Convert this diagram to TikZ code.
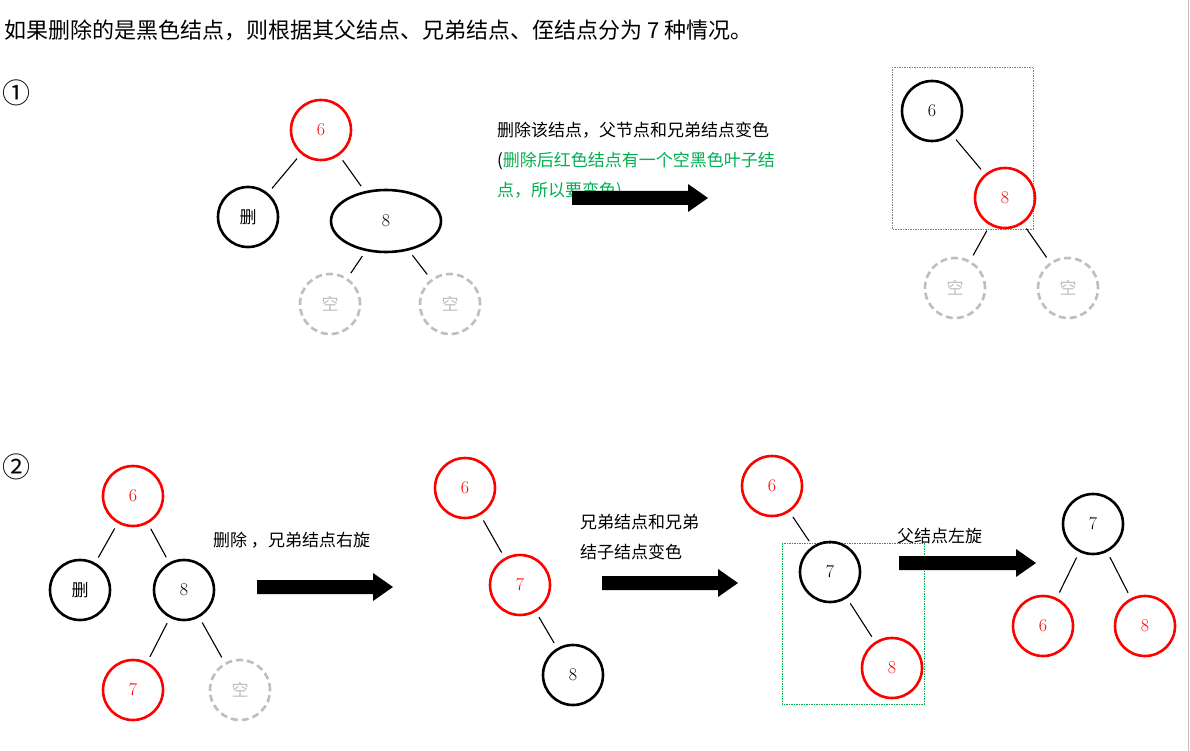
\documentclass[tikz,border=0pt]{standalone}
\usepackage{fontspec}
\usetikzlibrary{shapes.geometric}
\newfontfamily\cjk{Noto Sans CJK SC}
\newfontfamily\dv{DejaVu Sans}
\definecolor{tgreen}{RGB}{0,176,80}
\definecolor{lgray}{RGB}{190,190,190}
\begin{document}
\begin{tikzpicture}[x=1pt,y=-1pt,
  rn/.style={circle,draw=red,line width=2.6pt,minimum size=60pt,inner sep=0pt,text=red,font=\fontsize{18}{18}\selectfont},
  bn/.style={circle,draw=black,line width=2.6pt,minimum size=60pt,inner sep=0pt,font=\fontsize{18}{18}\selectfont},
  en/.style={circle,draw=lgray,dashed,dash pattern=on 7pt off 4pt,line width=2.6pt,minimum size=60pt,inner sep=0pt,text=lgray,font=\cjk\fontsize{17}{17}\selectfont},
  ed/.style={line width=1.1pt,shorten <=6pt,shorten >=6pt},
  lab/.style={anchor=west,font=\cjk\fontsize{17}{17}\selectfont,inner sep=0pt},
  blk/.style={fill=black}]
\useasboundingbox (0,0) rectangle (1190,751);
\fill[white] (0,0) rectangle (1190,751);
\draw[lgray,line width=0.6pt] (1188,0)--(1188,751);
\node[anchor=west,inner sep=0pt,font=\cjk\fontsize{22}{22}\selectfont] (title) at (4,30) {如果删除的是黑色结点，则根据其父结点、兄弟结点、侄结点分为 7 种情况。};
\node[anchor=west,inner sep=0pt,font=\cjk\fontsize{28}{28}\selectfont] (c1) at (2,93) {①};
\node[anchor=west,inner sep=0pt,font=\cjk\fontsize{28}{28}\selectfont] (c2) at (2,467) {②};
% case 1 left
\node[rn] (a6) at (321,130) {6};
\node[bn,font=\cjk\fontsize{17}{17}\selectfont] (ad) at (248,217) {删};
\node[ellipse,draw,line width=2.6pt,minimum width=110pt,minimum height=62pt,inner sep=0pt,font=\fontsize{18}{18}\selectfont] (a8) at (386,221) {8};
\node[en] (ae1) at (330,304) {空};
\node[en] (ae2) at (450,304) {空};
\draw[ed] (a6)--(ad); \draw[ed] (a6)--(a8); \draw[ed] (a8)--(ae1); \draw[ed] (a8)--(ae2);
\node[lab] (t1) at (497,130) {删除该结点，父节点和兄弟结点变色};
\node[lab] (t2) at (497,161) {(\textcolor{tgreen}{删除后红色结点有一个空黑色叶子结}};
\node[lab,text=tgreen] (t3) at (497,191) {点，所以要变色)};
\fill[blk] (572,191)--(688,191)--(688,184)--(708,198)--(688,212)--(688,205)--(572,205)--cycle;
\draw[gray,dash pattern=on 1.5pt off 1pt,line width=0.6pt] (892,67) rectangle (1033,229);
\node[bn] (b6) at (932,111) {6};
\node[rn] (b8) at (1005,198) {8};
\node[en] (be1) at (955,288) {空};
\node[en] (be2) at (1068,288) {空};
\draw[ed] (b6)--(b8); \draw[ed] (b8)--(be1); \draw[ed] (b8)--(be2);
% case 2
\node[rn] (c6) at (133,496) {6};
\node[bn,font=\cjk\fontsize{17}{17}\selectfont] (cd) at (80,590) {删};
\node[bn] (c8) at (184,590) {8};
\node[rn] (c7) at (133,690) {7};
\node[en] (ce) at (240,690) {空};
\draw[ed] (c6)--(cd); \draw[ed] (c6)--(c8); \draw[ed] (c8)--(c7); \draw[ed] (c8)--(ce);
\node[lab] (t4) at (213,540) {删除 ，兄弟结点右旋};
\fill[blk] (257,580)--(373,580)--(373,573)--(393,587)--(373,601)--(373,594)--(257,594)--cycle;
\node[rn] (d6) at (465,488) {6};
\node[rn] (d7) at (520,585) {7};
\node[bn] (d8) at (573,675) {8};
\draw[ed] (d6)--(d7); \draw[ed] (d7)--(d8);
\node[lab] (t5) at (580,522) {兄弟结点和兄弟};
\node[lab] (t6) at (580,552) {结子结点变色};
\fill[blk] (602,576)--(718,576)--(718,569)--(738,583)--(718,597)--(718,590)--(602,590)--cycle;
\draw[tgreen,dash pattern=on 1.5pt off 1pt,line width=0.6pt] (782,543) rectangle (924,704);
\node[rn] (e6) at (772,486) {6};
\node[bn] (e7) at (830,572) {7};
\node[rn] (e8) at (892,668) {8};
\draw[ed] (e6)--(e7); \draw[ed] (e7)--(e8);
\node[lab] (t7) at (897,536) {父结点左旋};
\fill[blk] (899,556)--(1016,556)--(1016,549)--(1036,563)--(1016,577)--(1016,570)--(899,570)--cycle;
\node[bn] (f7) at (1093,524) {7};
\node[rn] (f6) at (1043,626) {6};
\node[rn] (f8) at (1145,626) {8};
\draw[ed] (f7)--(f6); \draw[ed] (f7)--(f8);
\end{tikzpicture}
\end{document}
